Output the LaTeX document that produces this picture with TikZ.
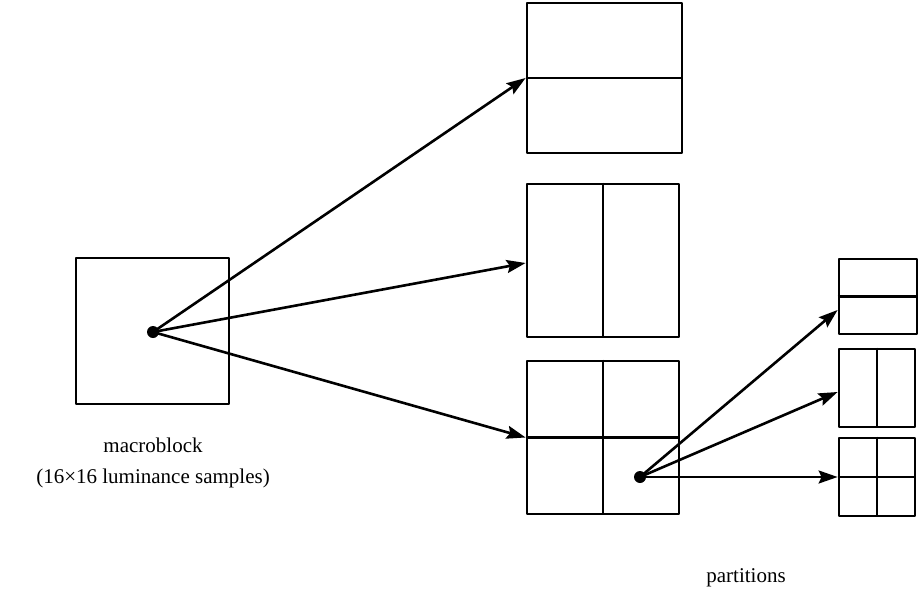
\documentclass[tikz,border=0pt]{standalone}
\usepackage{fontspec}
\setmainfont{Liberation Serif}
\usetikzlibrary{arrows.meta,calc}
\begin{document}
\begin{tikzpicture}[x=1pt,y=-1pt,
  blk/.style={draw, line width=2.8pt, inner sep=0pt, line join=round},
  part/.style={line width=2.8pt},
  link/.style={line width=2.6pt, -{Stealth[length=19pt,width=13pt,inset=3pt]}},
  dot/.style={circle, fill, inner sep=0pt, minimum size=12pt},
  lbl/.style={font=\fontsize{21}{31}\selectfont, align=center, inner sep=0pt}]
\useasboundingbox (0,0) rectangle (918,594);

% macroblock
\node[blk, minimum width=153pt, minimum height=146pt] (mb) at (152.5,331) {};
\node[dot] (o) at (153,332) {};
\node[lbl] (mbtext) at (153,463) {macroblock\\(16\texttimes16 luminance samples)};

% macroblock partitions
\node[blk, minimum width=155pt, minimum height=150pt] (p1) at (604.5,78) {};
\draw[part] (p1.west) -- (p1.east);
\node[blk, minimum width=152pt, minimum height=153pt] (p2) at (603,260.5) {};
\draw[part] (p2.north) -- (p2.south);
\node[blk, minimum width=152pt, minimum height=153pt] (p3) at (603,437.5) {};
\draw[part] (p3.west) -- (p3.east);
\draw[part] (p3.north) -- (p3.south);

% sub-macroblock partitions
\node[blk, minimum width=78pt, minimum height=75pt] (s1) at (878,296.5) {};
\draw[part] (s1.west) -- (s1.east);
\node[blk, minimum width=76pt, minimum height=78pt] (s2) at (877,388) {};
\draw[part] (s2.north) -- (s2.south);
\node[blk, minimum width=76pt, minimum height=78pt] (s3) at (877,477) {};
\draw[part] (s3.west) -- (s3.east);
\draw[part] (s3.north) -- (s3.south);

\node[dot] (q) at (640,477) {};

% connectors
\draw[link] (o.center) -- (p1.west);
\draw[link] (o.center) -- ($(p2.west)+(0,2.5)$);
\draw[link] (o.center) -- (p3.west);
\draw[link] (q.center) -- ($(s1.west)+(0,13.5)$);
\draw[link] (q.center) -- ($(s2.west)+(0,4)$);
\draw[link] (q.center) -- (s3.west);

\node[lbl] (ptext) at (746,578) {partitions};
\end{tikzpicture}
\end{document}
